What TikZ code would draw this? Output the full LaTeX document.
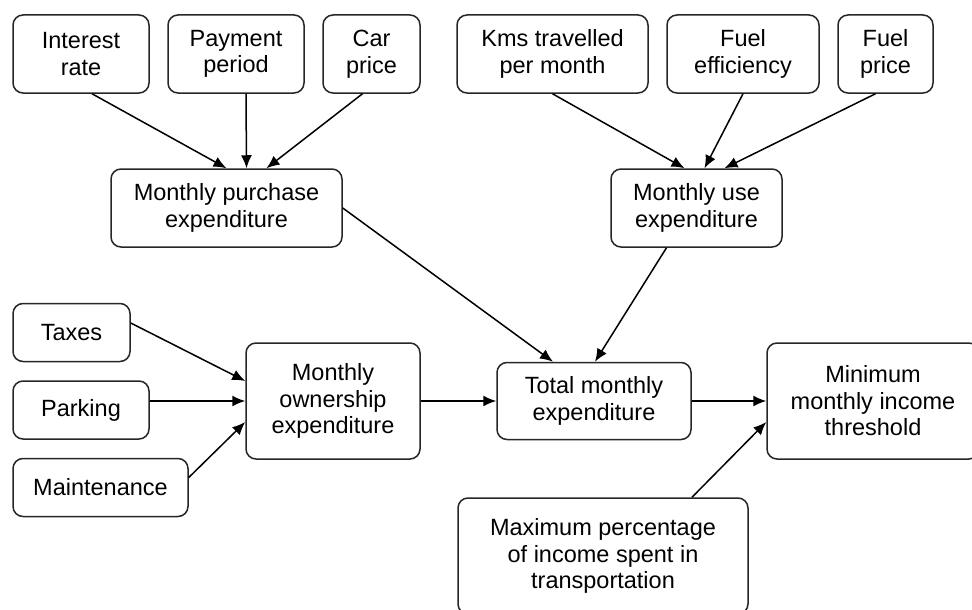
\documentclass[tikz,border=0pt]{standalone}
\usepackage{fontspec}
\setmainfont{Liberation Sans}
\usetikzlibrary{
  arrows.meta,
  positioning
}

\tikzset{
  box/.style = {draw=black!85, line width=1.5pt, rounded corners=10pt,
    align=center, inner sep=0pt, minimum height=78pt,
    font=\fontsize{23.5}{26.5}\selectfont},
  lowbox/.style = {box, minimum height=58pt},
  tallbox/.style = {box, minimum height=116pt},
  link/.style = {line width=1.5pt, -{Latex[length=13pt,width=11pt]}}
}

\begin{document}
\begin{tikzpicture}[x=1pt, y=-1pt]
    \useasboundingbox (0,0) rectangle (972,610);
    \clip (0,0) rectangle (972,610);

    % purchase side
    \node[box, minimum width=136pt] (ir) at (81,54) {Interest\\rate};
    \node[box, minimum width=136pt] (pp) at (236,54) {Payment\\period};
    \node[box, minimum width=97pt] (cp) at (371.5,54) {Car\\price};
    \node[box, minimum width=231pt] (pu) at (226.5,208) {Monthly purchase\\expenditure};

    % use side
    \node[box, minimum width=191pt] (km) at (552.5,54) {Kms travelled\\per month};
    \node[box, minimum width=152pt] (fe) at (743,54) {Fuel\\efficiency};
    \node[box, minimum width=95pt] (fp) at (885.5,54) {Fuel\\price};
    \node[box, minimum width=171pt] (us) at (696.5,208) {Monthly use\\expenditure};

    % ownership side
    \node[lowbox, minimum width=117pt] (ta) at (71.5,332.5) {Taxes};
    \node[lowbox, minimum width=136pt] (pa) at (81,410) {Parking};
    \node[lowbox, minimum width=175pt] (ma) at (100.5,487.5) {Maintenance};
    \node[tallbox, minimum width=174pt] (ow) at (333,401) {Monthly\\ownership\\expenditure};

    \node[box, minimum width=194pt, minimum height=77pt] (to) at (594,401) {Total monthly\\expenditure};
    \node[tallbox, minimum width=212pt] (mi) at (873,401) {Minimum\\monthly income\\threshold};
    \node[tallbox, minimum width=290pt] (mx) at (603,556) {Maximum percentage\\of income spent in\\transportation};

    \draw[link] ([xshift=11pt]ir.south) -- (pu.north);
    \draw[link] ([xshift=10pt]pp.south) -- ([xshift=20pt]pu.north);
    \draw[link] ([xshift=-9pt]cp.south) -- ([xshift=40pt]pu.north);

    \draw[link] (km.south) -- ([xshift=-12pt]us.north);
    \draw[link] (fe.south) -- ([xshift=8pt]us.north);
    \draw[link] ([xshift=-10pt]fp.south) -- ([xshift=28pt]us.north);

    \draw[link] (pu.east) -- ([xshift=-41pt]to.north);
    \draw[link] ([xshift=-30pt]us.south) -- ([xshift=1pt]to.north);

    \draw[link] ([yshift=9.5pt]ta.east) -- ([yshift=20pt]ow.west);
    \draw[link] ([yshift=9pt]pa.east) -- (ow.west);
    \draw[link] ([yshift=10pt]ma.east) -- ([yshift=-21pt]ow.west);

    \draw[link] (ow.east) -- (to.west);
    \draw[link] (to.east) -- (mi.west);
    \draw[link] ([xshift=89pt]mx.north) -- ([yshift=-21pt]mi.west);
  \end{tikzpicture}
\end{document}
